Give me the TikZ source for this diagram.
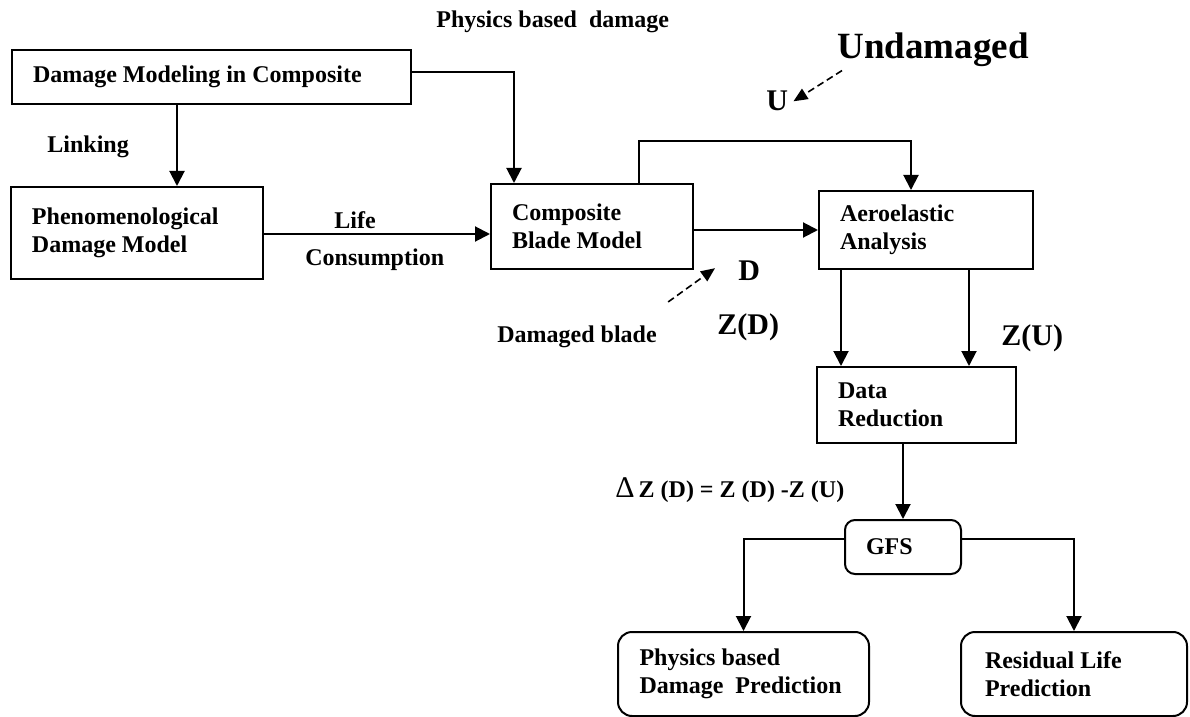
\documentclass[tikz,border=0pt]{standalone}
\usepackage{fontspec}
\setmainfont{Liberation Serif}
\usetikzlibrary{arrows.meta}
\tikzset{
	blk/.style={draw, line width=1pt, inner xsep=10.5pt, inner ysep=0pt, align=flush left, font=\fontsize{12}{14}\selectfont\bfseries},
	rblk/.style={blk, rounded corners=7pt},
	lbl/.style={inner sep=0pt, anchor=base west, font=\fontsize{12}{14}\selectfont\bfseries},
	big/.style={lbl, font=\fontsize{15}{17}\selectfont\bfseries},
	arr/.style={line width=1pt, -{Triangle[length=7.5pt,width=7.5pt]}},
	darr/.style={line width=0.8pt, dash pattern=on 3.5pt off 2pt, -{Triangle[length=7pt,width=6pt]}}
}
\begin{document}
\begin{tikzpicture}[x=0.5pt,y=-0.5pt]
		\useasboundingbox (0,0) rectangle (1190,717);

		\node [blk, minimum width=199.5pt, minimum height=27pt, text width=178.5pt] (mod) at (211.5,77) {Damage Modeling in Composite};
		\node [blk, minimum width=126pt, minimum height=46pt, text width=105pt] (phen) at (137,233) {Phenomenological\\Damage Model};
		\node [blk, minimum width=101pt, minimum height=42.5pt, text width=80pt] (comp) at (592,226.5) {Composite\\Blade Model};
		\node [blk, minimum width=107pt, minimum height=39pt, text width=86pt] (aero) at (926,230) {Aeroelastic\\Analysis};
		\node [blk, minimum width=99.5pt, minimum height=38pt, text width=78.5pt] (dred) at (916.5,405) {Data\\Reduction};
		\node [rblk, rounded corners=5pt, minimum width=58pt, minimum height=27pt, text width=37pt] (gfs) at (903,547) {GFS};
		\node [rblk, inner xsep=10.75pt, minimum width=125.5pt, minimum height=42pt, text width=104pt] (pred) at (743.5,674) {Physics based\\Damage~~Prediction};
		\node [rblk, inner xsep=12pt, minimum width=113pt, minimum height=42pt, text width=89pt] (rlp) at (1074,674) {Residual Life\\Prediction};

		\node [lbl] (phys) at (436,28) {Physics based~~damage};
		\node [lbl] (link) at (47,153) {Linking};
		\node [lbl] (life) at (334,228) {Life};
		\node [lbl] (cons) at (305,265) {Consumption};
		\node [lbl, font=\fontsize{18.5}{20}\selectfont\bfseries] (und) at (837,59) {Undamaged};
		\node [big] (ulab) at (766,111) {U};
		\node [big] (dlab) at (738,280) {D};
		\node [big] (zd) at (717,335) {Z(D)};
		\node [big] (zu) at (1001,345) {Z(U)};
		\node [lbl] (blade) at (497,343) {Damaged blade};
		\node [lbl] (dz) at (615,497) {{\mdseries\fontsize{15}{15}\selectfont Δ}\,Z (D) = Z (D) -Z (U)};

		\draw [arr] ([yshift=2.5pt]mod.east) -| ([xshift=12pt]comp.north west);
		\draw [arr] ([xshift=20pt]phen.north |- mod.south) -- ([xshift=20pt]phen.north);
		\draw [arr] ([yshift=-0.5pt]phen.east) -- ([yshift=-0.5pt]phen.east -| comp.west);
		\draw [arr] (comp.east |- aero.west) -- (aero.west);
		\draw [arr] ([xshift=23.5pt]comp.north) -- ++(0,-42) -| ([xshift=-7.5pt]aero.north);
		\draw [arr] ([xshift=-42.5pt]aero.south) -- ([xshift=-42.5pt]aero.south |- dred.north);
		\draw [arr] ([xshift=21.5pt]aero.south) -- ([xshift=21.5pt]aero.south |- dred.north);
		\draw [arr] (gfs.north |- dred.south) -- (gfs.north);
		\draw [arr] ([yshift=4pt]gfs.west) -| (pred.north);
		\draw [arr] ([yshift=4pt]gfs.east) -| (rlp.north);

		\draw [darr] ([shift={(2.5pt,-1.5pt)}]und.south west) -- ([xshift=2.5pt]ulab.east);
		\draw [darr] ([shift={(5.5pt,12pt)}]blade.north east) -- ([shift={(-11.5pt,1pt)}]dlab.west);
	\end{tikzpicture}
\end{document}
